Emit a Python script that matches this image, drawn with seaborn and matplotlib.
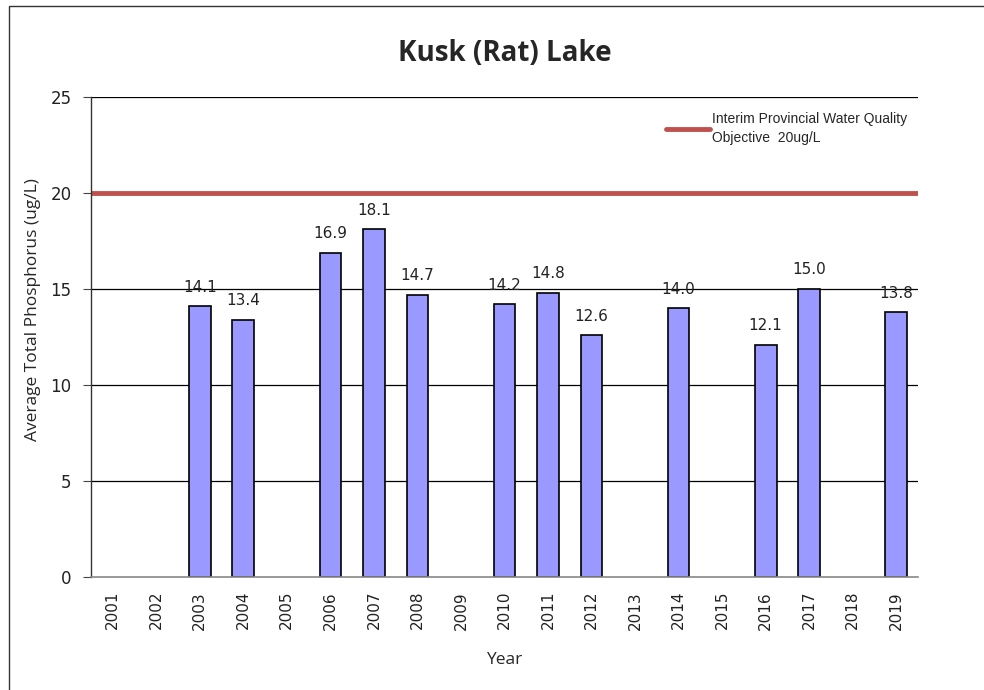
import matplotlib
matplotlib.use("Agg")
import matplotlib.pyplot as plt
import seaborn as sns
import pandas as pd
from matplotlib.lines import Line2D
from matplotlib.patches import Rectangle

years = [str(y) for y in range(2001, 2020)]
data_years = ["2003", "2004", "2006", "2007", "2008", "2010", "2011",
              "2012", "2014", "2016", "2017", "2019"]
phosphorus = [14.1, 13.4, 16.9, 18.1, 14.7, 14.2, 14.8, 12.6, 14.0, 12.1, 15.0, 13.8]
objective = 20

df = pd.DataFrame({"Year": data_years, "TP": phosphorus})

sns.set_theme(style="white")
plt.rcParams["font.family"] = ["DejaVu Sans"]

fig = plt.figure(figsize=(9.84, 6.90), dpi=100)
ax = fig.add_axes([91 / 984, 1 - 577 / 690, 827 / 984, 480 / 690])

sns.barplot(data=df, x="Year", y="TP", order=years, color="#9999ff",
            saturation=1, edgecolor="black", linewidth=1.2, width=0.5, ax=ax)

# value labels
for yr, v in zip(data_years, phosphorus):
    ax.text(years.index(yr), v + 0.6, f"{v:.1f}", ha="center", va="bottom",
            fontsize=11, color="#222222")

ax.set_ylim(0, 25)
ax.set_xlim(-0.5, len(years) - 0.5)
ax.set_yticks([0, 5, 10, 15, 20, 25])
for g in [5, 10, 15, 25]:
    ax.axhline(g, color="black", lw=0.9, zorder=0)
ax.axhline(objective, color="#c0504d", lw=3.5, zorder=1)

ax.tick_params(axis="y", labelsize=12, length=6, width=0.8, color="#444444",
               direction="out", left=True, pad=8, labelcolor="#222222")
ax.tick_params(axis="x", labelsize=11, length=0, rotation=90, pad=10,
               labelcolor="#222222")

for s in ["top", "right"]:
    ax.spines[s].set_visible(False)
ax.spines["left"].set_color("#333333")
ax.spines["bottom"].set_color("#888888")
ax.spines["left"].set_linewidth(1)
ax.spines["bottom"].set_linewidth(1.2)

ax.set_xlabel("Year", fontsize=12.5, family="Open Sans", labelpad=16)
ax.set_ylabel("Average Total Phosphorus (ug/L)", fontsize=12.5, family="Open Sans")
ax.yaxis.set_label_coords(-0.06, 0.558)
ax.set_title("Kusk (Rat) Lake", fontsize=20, fontweight="bold", family="Open Sans", pad=26)

handle = Line2D([0], [0], color="#c0504d", lw=3.5)
leg = ax.legend([handle], ["Interim Provincial Water Quality\nObjective  20ug/L"],
                loc="upper left", bbox_to_anchor=(0.68, 0.995), frameon=False,
                handlelength=3.2, handletextpad=0.1,
                prop={"family": "Liberation Sans", "size": 10})
for t in leg.get_texts():
    t.set_linespacing(1.5)

fig.patches.append(Rectangle((9 / 984, -0.01), 1.0, 1 - 6 / 690 + 0.01,
                             transform=fig.transFigure, fill=False,
                             edgecolor="#333333", lw=1))

fig.savefig("out.png", dpi=100)
